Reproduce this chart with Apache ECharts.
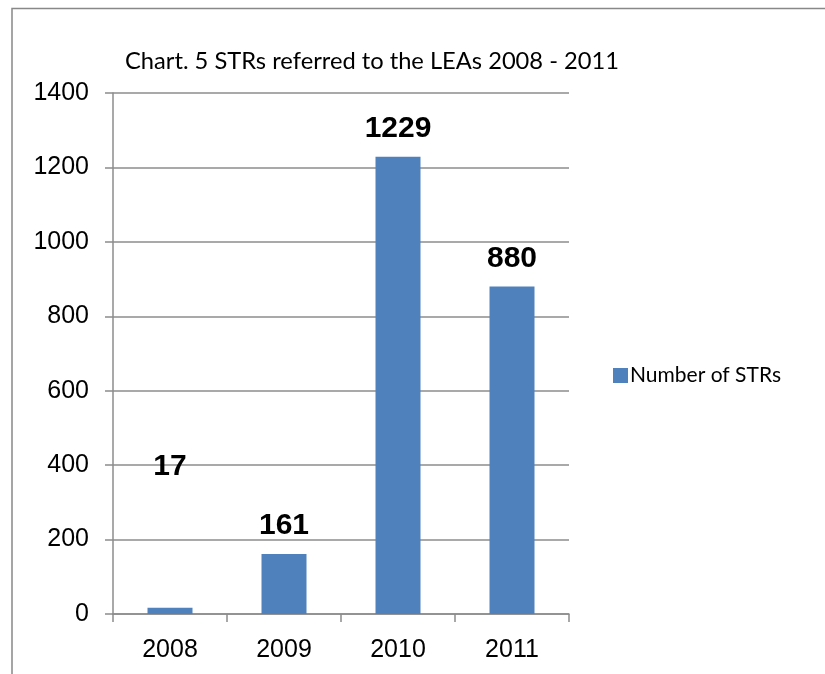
<!DOCTYPE html>
<html>
<head>
<meta charset="utf-8">
<script src="https://cdn.jsdelivr.net/npm/echarts@6/dist/echarts.min.js"></script>
<style>
  html, body { margin: 0; padding: 0; background: #fff; }
  #chart { width: 825px; height: 674px; }
</style>
</head>
<body>
<div id="chart"></div>
<script>
// STRs referred to the LEAs, per year
const years = ['2008', '2009', '2010', '2011'];
const strCounts = [17, 161, 1229, 880];
const yTicks = { min: 0, max: 1400, interval: 200 };
const seriesName = 'Number of STRs';
const titleText = 'Chart. 5 STRs referred to the LEAs 2008 - 2011';

const barColor = '#4F81BD';
const gridColor = '#8c8c8c';

const chart = echarts.init(document.getElementById('chart'), null, { renderer: 'canvas' });

const barData = strCounts.map((v, i) => {
  const item = { value: v };
  // the smallest bar's label sits higher, clear of the axis
  if (i === 0) item.label = { offset: [0, -113] };
  return item;
});

chart.setOption({
  animation: false,
  backgroundColor: '#fff',
  graphic: [{
    type: 'rect',
    shape: { x: 12, y: 8.5, width: 900, height: 800 },
    style: { fill: 'none', stroke: '#888', lineWidth: 1.5 },
    silent: true
  }],
  title: {
    text: titleText,
    left: 120,
    top: 44,
    textStyle: {
      fontFamily: 'Lato',
      fontWeight: 'normal',
      fontSize: 23.7,
      color: '#000'
    }
  },
  legend: {
    data: [seriesName],
    orient: 'vertical',
    left: 613,
    top: 365,
    padding: 0,
    icon: 'rect',
    itemWidth: 15,
    itemHeight: 15,
    itemGap: 4,
    textStyle: {
      fontFamily: 'Lato',
      fontSize: 21,
      color: '#000',
      padding: [0, 0, 0, -3]
    }
  },
  grid: {
    left: 113,
    right: 256,
    top: 93,
    bottom: 60,
    containLabel: false
  },
  xAxis: {
    type: 'category',
    data: years,
    axisLine: { lineStyle: { color: gridColor, width: 1.5 } },
    axisTick: { show: true, alignWithLabel: false, length: 8, lineStyle: { color: gridColor, width: 1.5 } },
    axisLabel: {
      fontFamily: 'Liberation Sans',
      fontSize: 25,
      color: '#000',
      margin: 24
    },
    splitLine: { show: false }
  },
  yAxis: {
    type: 'value',
    min: yTicks.min,
    max: yTicks.max,
    interval: yTicks.interval,
    axisLine: { show: true, lineStyle: { color: gridColor, width: 1.5 } },
    axisTick: { show: true, length: 8, lineStyle: { color: gridColor, width: 1.5 } },
    axisLabel: {
      fontFamily: 'Liberation Sans',
      fontSize: 25,
      color: '#000',
      margin: 24,
      formatter: (v) => String(v)
    },
    splitLine: { show: true, lineStyle: { color: gridColor, width: 1.5 } }
  },
  series: [{
    name: seriesName,
    type: 'bar',
    data: barData,
    barWidth: 45,
    itemStyle: { color: barColor },
    label: {
      show: true,
      position: 'top',
      distance: 13,
      fontFamily: 'Liberation Sans',
      fontWeight: 'bold',
      fontSize: 30,
      color: '#000'
    }
  }]
});
</script>
</body>
</html>
